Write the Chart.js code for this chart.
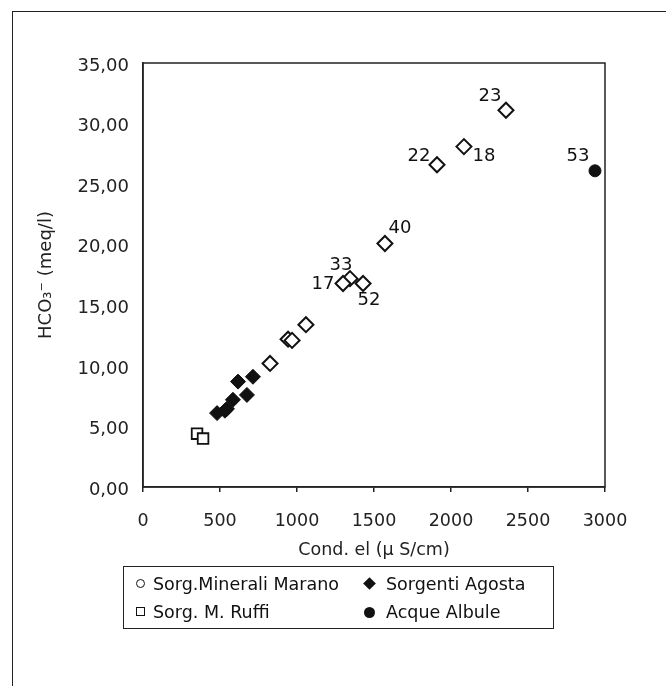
<!DOCTYPE html>
<html>
<head>
<meta charset="utf-8">
<script src="https://cdn.jsdelivr.net/npm/chart.js@4/dist/chart.umd.min.js"></script>
<style>
  body { margin: 0; background: #fff; font-family: "DejaVu Sans", sans-serif; }
  #wrap { position: relative; width: 666px; height: 686px; overflow: hidden; }
  #frame { position: absolute; left: 12px; top: 11px; width: 700px; height: 700px;
           border-left: 1.5px solid #222; border-top: 1.5px solid #222; }
  #chart { position: absolute; left: 0; top: 0; }
  #legend { position: absolute; left: 123px; top: 566px; width: 429px; height: 61px;
            border: 1.5px solid #222; font-size: 17.5px; color: #111; }
  .item { position: absolute; white-space: nowrap; line-height: 20px; }
  .mk { position: absolute; box-sizing: border-box; }
</style>
</head>
<body>
<div id="wrap">
  <div id="frame"></div>
  <canvas id="chart" width="666" height="686"></canvas>
  <div id="legend"></div>
</div>
<script>
// Sorg. Minerali Marano (open diamonds)
const maranoX = [2357, 2084, 1909, 1571, 1344, 1299, 1429, 1058, 942, 968, 825];
const maranoY = [31.1, 28.1, 26.6, 20.1, 17.2, 16.8, 16.8, 13.4, 12.2, 12.1, 10.2];
const maranoLabels = ['23', '18', '22', '40', '33', '17', '52', '', '', '', ''];

// Sorgenti Agosta (filled diamonds)
const agostaX = [714, 617, 675, 584, 545, 481, 532];
const agostaY = [9.1, 8.7, 7.6, 7.2, 6.45, 6.1, 6.3];

// Sorg. M. Ruffi (open squares)
const ruffiX = [351, 390];
const ruffiY = [4.4, 4.0];

// Acque Albule (filled circle)
const albuleX = [2935];
const albuleY = [26.1];
const albuleLabels = ['53'];

const xTickLabels = ['0', '500', '1000', '1500', '2000', '2500', '3000'];
const yTickLabels = ['0,00', '5,00', '10,00', '15,00', '20,00', '25,00', '30,00', '35,00'];

const seriesNames = ['Sorg.Minerali Marano', 'Sorgenti Agosta', 'Sorg. M. Ruffi', 'Acque Albule'];

// label offsets from the marker, in pixels
const labelOffsets = {
  '23': [-16, -14], '18': [20, 10], '22': [-18, -8], '40': [15, -15],
  '33': [-9, -13], '17': [-20, 1], '52': [6, 17], '53': [-17, -14]
};

function toPoints(xs, ys) {
  return xs.map((x, i) => ({ x: x, y: ys[i] }));
}

const FONT = '"DejaVu Sans", sans-serif';

const frameBox = {
  id: 'frameBox',
  afterDraw(chart) {
    const a = chart.chartArea;
    const ctx = chart.ctx;
    ctx.save();
    ctx.strokeStyle = '#222';
    ctx.lineWidth = 1.5;
    ctx.strokeRect(a.left, a.top, a.right - a.left, a.bottom - a.top);
    ctx.restore();
  }
};

const pointLabels = {
  id: 'pointLabels',
  afterDatasetsDraw(chart) {
    const ctx = chart.ctx;
    ctx.save();
    ctx.font = '18px ' + FONT;
    ctx.fillStyle = '#111';
    ctx.textAlign = 'center';
    ctx.textBaseline = 'middle';
    chart.data.datasets.forEach((ds, di) => {
      if (!ds.labels) return;
      chart.getDatasetMeta(di).data.forEach((pt, i) => {
        const t = ds.labels[i];
        if (!t) return;
        const off = labelOffsets[t] || [0, -14];
        ctx.fillText(t, pt.x + off[0], pt.y + off[1]);
      });
    });
    ctx.restore();
  }
};

const ctx = document.getElementById('chart').getContext('2d');
new Chart(ctx, {
  type: 'scatter',
  data: {
    datasets: [
      {
        label: seriesNames[2],
        data: toPoints(ruffiX, ruffiY),
        pointStyle: 'rect',
        pointRadius: 7.5,
        backgroundColor: '#fff',
        borderColor: '#111',
        borderWidth: 1.8
      },
      {
        label: seriesNames[1],
        data: toPoints(agostaX, agostaY),
        pointStyle: 'rectRot',
        pointRadius: 7.5,
        backgroundColor: '#111',
        borderColor: '#111',
        borderWidth: 1
      },
      {
        label: seriesNames[0],
        data: toPoints(maranoX, maranoY),
        labels: maranoLabels,
        pointStyle: 'rectRot',
        pointRadius: 7.5,
        backgroundColor: '#fff',
        borderColor: '#111',
        borderWidth: 2
      },
      {
        label: seriesNames[3],
        data: toPoints(albuleX, albuleY),
        labels: albuleLabels,
        pointStyle: 'circle',
        pointRadius: 6,
        backgroundColor: '#111',
        borderColor: '#111',
        borderWidth: 1
      }
    ]
  },
  options: {
    responsive: false,
    animation: false,
    events: [],
    layout: { padding: { left: 0, top: 63, right: 61, bottom: 119 } },
    plugins: {
      legend: { display: false },
      tooltip: { enabled: false }
    },
    scales: {
      x: {
        type: 'linear',
        min: 0,
        max: 3000,
        afterFit: scale => { scale.height = 80; },
        afterBuildTicks: scale => {
          scale.ticks = xTickLabels.map(t => ({ value: Number(t) }));
        },
        ticks: {
          color: '#222',
          font: { family: FONT, size: 17.5 },
          padding: 19,
          maxRotation: 0,
          autoSkip: false,
          callback: (v, i) => xTickLabels[i]
        },
        grid: { drawOnChartArea: false, drawTicks: true, tickLength: 5, color: '#222', lineWidth: 1.5 },
        border: { display: true, color: '#222', width: 1.5 },
        title: {
          display: true,
          text: 'Cond. el (\u00b5 S/cm)',
          color: '#222',
          font: { family: FONT, size: 17.5 },
          padding: { top: 0, bottom: 6 }
        }
      },
      y: {
        type: 'linear',
        min: 0,
        max: 35,
        afterFit: scale => { scale.width = 143; },
        afterBuildTicks: scale => {
          scale.ticks = yTickLabels.map(t => ({ value: Number(t.replace(',', '.')) }));
        },
        ticks: {
          color: '#222',
          font: { family: FONT, size: 18 },
          padding: 14,
          labelOffset: 3,
          autoSkip: false,
          callback: (v, i) => yTickLabels[i]
        },
        grid: { drawOnChartArea: false, drawTicks: false },
        border: { display: true, color: '#222', width: 1.5 },
        title: {
          display: true,
          text: 'HCO\u2083\u207b (meq/l)',
          color: '#222',
          font: { family: FONT, size: 18 },
          padding: { top: 36, bottom: 0 }
        }
      }
    }
  },
  plugins: [frameBox, pointLabels]
});

// legend drawn as a boxed two-column list
const legendItems = [
  { name: seriesNames[0], left: 12, top: 7, mk: 'width:9px;height:9px;left:0;top:5px;border:1.5px solid #111;border-radius:50%;' },
  { name: seriesNames[1], left: 240, top: 7, mk: 'width:9px;height:9px;left:1px;top:5px;background:#111;transform:rotate(45deg);' },
  { name: seriesNames[2], left: 12, top: 35, mk: 'width:9px;height:9px;left:0;top:5px;border:1.5px solid #111;' },
  { name: seriesNames[3], left: 240, top: 35, mk: 'width:11px;height:11px;left:0;top:5px;background:#111;border-radius:50%;' }
];
const legend = document.getElementById('legend');
legendItems.forEach(it => {
  const div = document.createElement('div');
  div.className = 'item';
  div.style.left = it.left + 'px';
  div.style.top = it.top + 'px';
  div.innerHTML = `<span class="mk" style="${it.mk}"></span><span style="margin-left:${it.left > 100 ? 22 : 17}px">${it.name}</span>`;
  legend.appendChild(div);
});
</script>
</body>
</html>
